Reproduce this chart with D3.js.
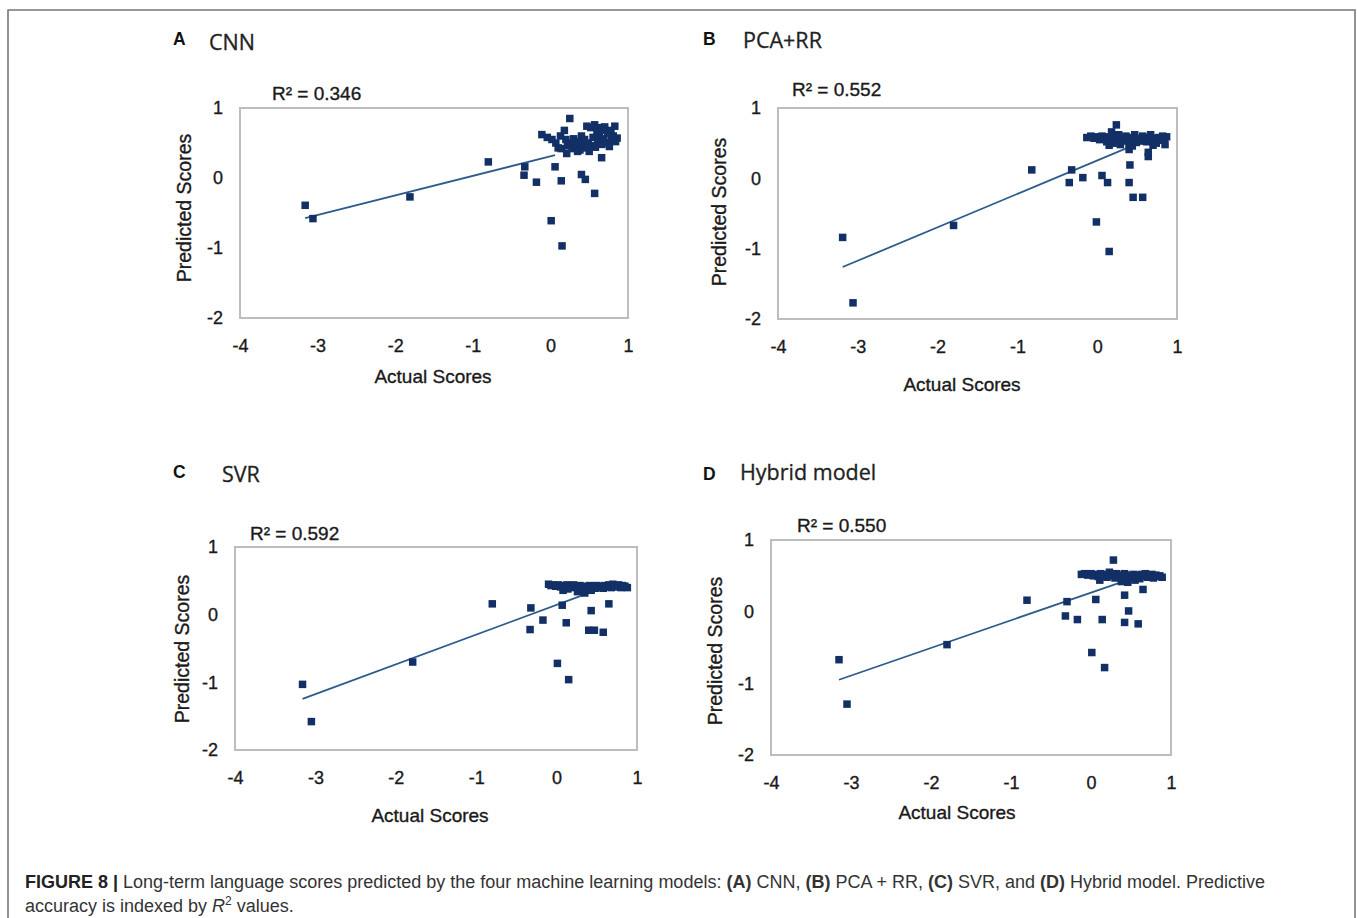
<!DOCTYPE html>
<html><head><meta charset="utf-8">
<script src="https://cdn.jsdelivr.net/npm/d3@7"></script>
<style>body{margin:0;background:#fff} svg{display:block}</style>
</head><body><svg id="chart" width="1357" height="918"></svg>
<script>
// ---------------- DATA ----------------
const xTicks = [-4, -3, -2, -1, 0, 1];
const yTicks = [1, 0, -1, -2];
const panelLetters = ["A", "B", "C", "D"];
const panelTitles = ["CNN", "PCA+RR", "SVR", "Hybrid model"];
const r2Values = ["0.346", "0.552", "0.592", "0.550"];
// linear trend lines
const fitSlope = [0.28, 0.475, 0.44, 0.386];
const fitIntercept = [0.31, 0.254, 0.145, 0.266];
const fitXRange = [[-3.16, 0.06], [-3.19, 0.37], [-3.16, 0.42], [-3.15, 0.40]];

const cnnPoints = [
  [-3.16,-0.39],[-3.06,-0.58],[-1.81,-0.27],[-0.80,0.23],[-0.33,0.16],[-0.34,0.04],[-0.18,-0.06],
  [0.06,0.16],[0.14,-0.04],[0.01,-0.61],[0.15,-0.97],[0.40,0.05],[0.45,-0.02],[0.57,-0.22],[0.66,0.29],
  [0.25,0.85],[0.47,0.74],[0.52,0.72],[0.57,0.76],[0.62,0.72],[0.70,0.73],[0.78,0.68],[0.83,0.74],
  [-0.11,0.62],[-0.04,0.58],[0.02,0.55],[0.07,0.50],[0.10,0.43],[0.13,0.60],[0.18,0.68],[0.20,0.55],
  [0.22,0.46],[0.21,0.35],[0.26,0.50],[0.28,0.42],[0.30,0.56],[0.33,0.47],[0.36,0.52],[0.38,0.40],
  [0.41,0.48],[0.44,0.55],[0.46,0.43],[0.49,0.50],[0.52,0.46],[0.55,0.58],[0.58,0.44],[0.61,0.52],
  [0.63,0.62],[0.66,0.48],[0.69,0.56],[0.72,0.50],[0.74,0.64],[0.76,0.45],[0.79,0.55],[0.81,0.60],
  [0.84,0.52],[0.86,0.57],[0.68,0.68],[0.60,0.66],[0.40,0.60],[0.35,0.38],[0.50,0.38],[0.14,0.42]
];
const pcaPoints = [
  [-3.19,-0.84],[-3.06,-1.77],[-1.80,-0.67],[-0.82,0.12],[-0.32,0.12],[-0.35,-0.06],[-0.18,0.01],
  [0.06,0.04],[0.13,-0.06],[-0.01,-0.62],[0.15,-1.04],[0.40,-0.06],[0.41,0.19],[0.40,0.41],
  [0.45,-0.27],[0.57,-0.27],[0.64,0.31],[0.64,0.37],
  [-0.13,0.58],[-0.08,0.60],[-0.04,0.57],[0.00,0.59],[0.03,0.55],[0.06,0.60],[0.09,0.56],[0.12,0.52],
  [0.14,0.59],[0.17,0.55],[0.18,0.66],[0.20,0.50],[0.22,0.58],[0.24,0.76],[0.25,0.54],[0.27,0.62],
  [0.29,0.48],[0.31,0.57],[0.33,0.53],[0.36,0.60],[0.38,0.55],[0.40,0.50],[0.42,0.58],[0.45,0.54],
  [0.47,0.62],[0.49,0.51],[0.52,0.57],[0.54,0.53],[0.57,0.60],[0.59,0.55],[0.62,0.52],[0.64,0.58],
  [0.67,0.62],[0.69,0.54],[0.72,0.57],[0.74,0.50],[0.77,0.58],[0.79,0.54],[0.82,0.60],[0.84,0.56],
  [0.87,0.59],[0.85,0.48],[0.70,0.47],[0.15,0.47],[0.44,0.46]
];
const svrPoints = [
  [-3.16,-1.03],[-3.05,-1.58],[-1.79,-0.70],[-0.80,0.16],[-0.32,0.10],[-0.33,-0.22],[-0.17,-0.08],
  [0.07,0.14],[0.12,-0.12],[0.01,-0.72],[0.15,-0.96],[0.43,0.06],[0.40,-0.23],[0.47,-0.23],
  [0.58,-0.26],[0.65,0.16],
  [-0.10,0.45],[-0.07,0.43],[-0.04,0.44],[-0.01,0.42],[0.02,0.44],[0.05,0.41],[0.08,0.43],[0.08,0.36],
  [0.11,0.40],[0.13,0.44],[0.16,0.42],[0.19,0.40],[0.21,0.44],[0.24,0.41],[0.27,0.38],[0.29,0.43],
  [0.31,0.35],[0.33,0.40],[0.35,0.32],[0.36,0.42],[0.39,0.38],[0.41,0.43],[0.43,0.36],[0.45,0.41],
  [0.48,0.39],[0.50,0.43],[0.53,0.40],[0.55,0.42],[0.58,0.39],[0.60,0.43],[0.63,0.41],[0.65,0.44],
  [0.68,0.40],[0.70,0.45],[0.72,0.42],[0.75,0.41],[0.77,0.44],[0.80,0.40],[0.82,0.43],[0.85,0.42],
  [0.88,0.40],[0.26,0.34],[0.14,0.38]
];
const hybridPoints = [
  [-3.15,-0.67],[-3.05,-1.29],[-1.80,-0.46],[-0.80,0.16],[-0.30,0.14],[-0.32,-0.06],[-0.17,-0.11],
  [0.06,0.17],[0.14,-0.11],[0.01,-0.57],[0.17,-0.78],[0.42,0.23],[0.47,0.01],[0.42,-0.15],
  [0.59,-0.17],[0.65,0.31],[0.28,0.72],
  [-0.12,0.52],[-0.08,0.53],[-0.04,0.51],[0.00,0.53],[0.03,0.50],[0.06,0.52],[0.09,0.49],[0.11,0.44],
  [0.12,0.53],[0.15,0.50],[0.18,0.52],[0.20,0.48],[0.23,0.55],[0.25,0.50],[0.28,0.52],[0.30,0.47],
  [0.32,0.53],[0.35,0.49],[0.37,0.51],[0.40,0.46],[0.42,0.53],[0.44,0.49],[0.46,0.41],[0.48,0.51],
  [0.51,0.47],[0.53,0.52],[0.56,0.49],[0.58,0.51],[0.61,0.46],[0.63,0.52],[0.66,0.49],[0.68,0.53],
  [0.71,0.48],[0.73,0.50],[0.76,0.52],[0.78,0.47],[0.81,0.51],[0.83,0.49],[0.86,0.50],[0.89,0.48],
  [0.38,0.42],[0.55,0.44]
];
const panelPoints = [cnnPoints, pcaPoints, svrPoints, hybridPoints];
const xLabel = "Actual Scores";
const yLabel = "Predicted Scores";

// ---------------- LAYOUT ----------------
const layout = [
  {box:[240,108,628,318], letter:[173,45], title:[209,50], r2:[272,100], yl:[184,208], xl:[433,383]},
  {box:[778,108,1177,319], letter:[703,45], title:[743,48], r2:[792,96], yl:[719,212], xl:[962,391]},
  {box:[235,547,637,750], letter:[173,478], title:[222,482], r2:[250,540], yl:[182,649], xl:[430,822]},
  {box:[771,540,1171,755], letter:[703,480], title:[740,480], r2:[797,532], yl:[715,651], xl:[957,819]}
];
const markerColor = "#123066";
const lineColor = "#2d5b8c";
const textColor = "#1a1a1a";
const sans = "'Liberation Sans', Arial, sans-serif";

const svg = d3.select("#chart");
svg.append("rect").attr("width",1357).attr("height",918).attr("fill","#fff");
// outer frame
svg.append("path").attr("d","M8,918 V10 H1355 V918").attr("fill","none")
  .attr("stroke","#777").attr("stroke-width",1.6);

function heavy(sel) { return sel.attr("stroke", textColor).attr("stroke-width", 0.35); }

panelPoints.forEach((pts, i) => {
  const L = layout[i];
  const [x0,y0,x1,y1] = L.box;
  const x = d3.scaleLinear().domain([-4,1]).range([x0,x1]);
  const y = d3.scaleLinear().domain([-2,1]).range([y1,y0]);
  const g = svg.append("g");

  g.append("rect").attr("x",x0).attr("y",y0).attr("width",x1-x0).attr("height",y1-y0)
    .attr("fill","none").attr("stroke","#bdbdbd").attr("stroke-width",2);

  const xa = g.append("g").attr("transform",`translate(0,${y1})`)
    .call(d3.axisBottom(x).tickValues(xTicks).tickSize(0).tickPadding(21).tickFormat(d3.format("d")));
  const ya = g.append("g").attr("transform",`translate(${x0},0)`)
    .call(d3.axisLeft(y).tickValues(yTicks).tickSize(0).tickPadding(17).tickFormat(d3.format("d")));
  [xa, ya].forEach(a => {
    a.select(".domain").remove();
    heavy(a.selectAll("text").attr("font-family",sans).attr("font-size",18).attr("fill",textColor)
      .text(d => String(d).replace("−","-")));
  });

  // trend line
  const fr = fitXRange[i];
  g.append("line")
    .attr("x1",x(fr[0])).attr("y1",y(fitIntercept[i]+fitSlope[i]*fr[0]))
    .attr("x2",x(fr[1])).attr("y2",y(fitIntercept[i]+fitSlope[i]*fr[1]))
    .attr("stroke",lineColor).attr("stroke-width",1.8);

  // markers
  const s = 7.5;
  g.selectAll("rect.pt").data(pts).enter().append("rect").attr("class","pt")
    .attr("x",d=>x(d[0])-s/2).attr("y",d=>y(d[1])-s/2).attr("width",s).attr("height",s)
    .attr("fill",markerColor);

  // texts
  g.append("text").attr("x",L.letter[0]).attr("y",L.letter[1]).text(panelLetters[i])
    .attr("font-family",sans).attr("font-weight","bold").attr("font-size",17.5).attr("fill","#111");
  g.append("text").attr("x",L.title[0]).attr("y",L.title[1]).text(panelTitles[i])
    .attr("font-family","'Open Sans', sans-serif").attr("font-size",21.5).attr("fill","#222")
    .attr("stroke","#222").attr("stroke-width",0.3);
  heavy(g.append("text").attr("x",L.r2[0]).attr("y",L.r2[1]).text("R² = " + r2Values[i])
    .attr("font-family",sans).attr("font-size",19).attr("fill",textColor));
  heavy(g.append("text").attr("x",L.xl[0]).attr("y",L.xl[1]).attr("text-anchor","middle").text(xLabel)
    .attr("font-family",sans).attr("font-size",19).attr("fill",textColor));
  heavy(g.append("text").attr("transform",`translate(${L.yl[0]+7},${L.yl[1]}) rotate(-90)`)
    .attr("text-anchor","middle").text(yLabel)
    .attr("font-family",sans).attr("font-size",19.5).attr("fill",textColor));
});

// caption
const capSize = 18;
const cap1 = svg.append("text").attr("x",25).attr("y",888).attr("font-family",sans)
  .attr("font-size",capSize).attr("fill","#333");
cap1.append("tspan").attr("font-weight","bold").attr("fill","#222").text("FIGURE 8 | ");
cap1.append("tspan").text("Long-term language scores predicted by the four machine learning models: ");
cap1.append("tspan").attr("font-weight","bold").text("(A)");
cap1.append("tspan").text(" CNN, ");
cap1.append("tspan").attr("font-weight","bold").text("(B)");
cap1.append("tspan").text(" PCA + RR, ");
cap1.append("tspan").attr("font-weight","bold").text("(C)");
cap1.append("tspan").text(" SVR, and ");
cap1.append("tspan").attr("font-weight","bold").text("(D)");
cap1.append("tspan").text(" Hybrid model. Predictive");
const cap2 = svg.append("text").attr("x",25).attr("y",912).attr("font-family",sans)
  .attr("font-size",capSize).attr("fill","#333");
cap2.append("tspan").text("accuracy is indexed by ");
cap2.append("tspan").attr("font-style","italic").text("R");
cap2.append("tspan").attr("font-size",12).attr("dy",-7).text("2");
cap2.append("tspan").attr("dy",7).text(" values.");
</script>
</body></html>
